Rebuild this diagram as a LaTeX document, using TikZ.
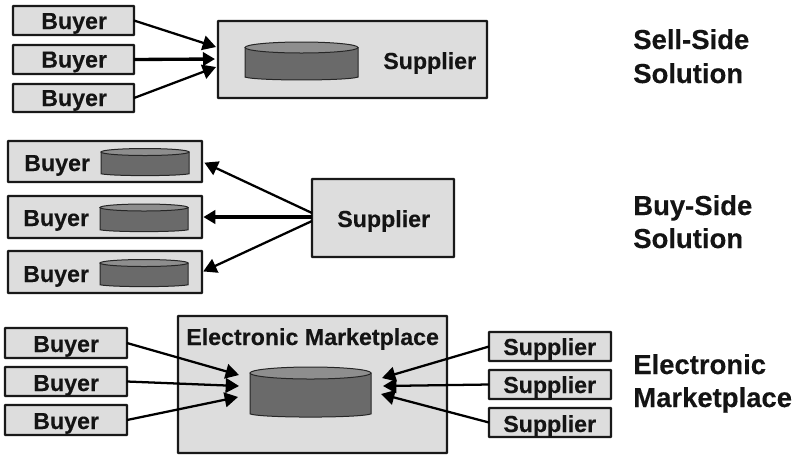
\documentclass[tikz,border=0pt]{standalone}
\usepackage{fontspec}
\setmainfont[BoldFeatures={FakeBold=0.25}]{Liberation Sans}
\usetikzlibrary{arrows.meta}
\definecolor{boxgray}{HTML}{DDDDDD}
\definecolor{cyldark}{HTML}{6A6A6A}
\definecolor{cyllight}{HTML}{8E8E8E}
\newcommand{\bx}[5]{%
  \node[boxstyle, minimum width={(#4-#2)*0.75pt}, minimum height={(#5-#3)*0.75pt}] (#1) at ({(#2+#4)/2},{(#3+#5)/2}) {};}
\newcommand{\cyl}[5]{% x1 x2 ytop ry ybot
  \path[cylside] (#1,#3) -- (#1,#5-#4*0.35)
     .. controls (#1+12,#5+#4*0.35) and (#2-12,#5+#4*0.35) .. (#2,#5-#4*0.35) -- (#2,#3) -- cycle;
  \path[cyltop] ({(#1+#2)/2},#3) ellipse [x radius={(#2-#1)/2}, y radius=#4];}
\tikzset{
  x=0.75pt, y=-0.75pt,
  boxstyle/.style={draw=black!90, line width=1.6pt, fill=boxgray, rounded corners=0.3pt, inner sep=0pt, outer sep=0pt},
  cylside/.style={draw=black!85, line width=0.75pt, fill=cyldark},
  cyltop/.style={draw=black!85, line width=0.75pt, fill=cyllight},
  lbl/.style={anchor=base west, inner sep=0pt, font=\bfseries\fontsize{17.4}{20}\selectfont, text=black!92},
  sect/.style={anchor=base west, inner sep=0pt, font=\bfseries\fontsize{20.6}{24}\selectfont, text=black!92},
  conn/.style={draw=black, line width=1.7pt, -{Triangle[length=10pt,width=11pt]}},
  connthick/.style={conn, line width=2.5pt, -{Triangle[length=9pt,width=10pt]}},
}
\begin{document}
\begin{tikzpicture}
\useasboundingbox (0,0) rectangle (795,455);
% Sell-side
\bx{a1}{13}{6}{134}{35}
\bx{a2}{13}{45}{134}{74}
\bx{a3}{13}{84}{134}{112}
\bx{as}{218}{21}{487}{98}
\cyl{245}{358}{47.5}{5.5}{79}
\node[lbl] (ta1) at (41,29) {Buyer};
\node[lbl] (ta2) at (41,67.5) {Buyer};
\node[lbl] (ta3) at (41,106) {Buyer};
\node[lbl] (tas) at (383,69) {Supplier};
\node[sect] (s1a) at (633,49) {Sell-Side};
\node[sect] (s1b) at (633,83) {Solution};
\coordinate (at1) at (216,47);
\coordinate (at2) at (215,59);
\coordinate (at3) at (216,67);
\draw[conn] (a1.east) -- (at1);
\draw[connthick] (a2.east) -- (at2);
\draw[conn] (a3.east) -- (at3);
% Buy-side
\bx{b1}{8}{141}{202}{182}
\bx{b2}{8}{196}{202}{238}
\bx{b3}{8}{251}{202}{293}
\bx{bs}{312}{179}{454}{257}
\cyl{101}{189}{152}{3.5}{175}
\cyl{100}{188}{207.5}{3.5}{231}
\cyl{100}{188}{263}{3.5}{286}
\node[lbl] (tb1) at (24,171) {Buyer};
\node[lbl] (tb2) at (23,226) {Buyer};
\node[lbl] (tb3) at (23,282) {Buyer};
\node[lbl] (tbs) at (337,227) {Supplier};
\node[sect] (s2a) at (633,215) {Buy-Side};
\node[sect] (s2b) at (633,248) {Solution};
\coordinate (bf1) at (312,213);
\coordinate (bf2) at (312,217);
\coordinate (bf3) at (312,221);
\draw[conn, shorten >=2pt] (bf1) -- (b1.east);
\draw[connthick, shorten >=1pt] (bf2) -- (b2.east);
\draw[conn, shorten >=1pt] (bf3) -- (b3.east);
% Marketplace
\bx{cm}{178}{316}{447}{453}
\cyl{250}{371}{373}{6}{416}
\bx{c1}{5}{328}{127}{358}
\bx{c2}{5}{367}{127}{396}
\bx{c3}{5}{405}{127}{435}
\bx{d1}{489}{332}{611}{361}
\bx{d2}{489}{370}{611}{399}
\bx{d3}{489}{408}{611}{437}
\node[lbl] (tc1) at (33,352) {Buyer};
\node[lbl] (tc2) at (33,391) {Buyer};
\node[lbl] (tc3) at (33,429) {Buyer};
\node[lbl] (td1) at (503,355) {Supplier};
\node[lbl] (td2) at (503,393) {Supplier};
\node[lbl] (td3) at (503,432) {Supplier};
\node[lbl] (tcm) at (186,345) {Electronic Marketplace};
\node[sect] (s3a) at (633,374) {Electronic};
\node[sect] (s3b) at (633,407) {Marketplace};
\coordinate (ct1) at (239,375);
\coordinate (ct2) at (239,386);
\coordinate (ct3) at (238,397);
\coordinate (dt1) at (382,378);
\coordinate (dt2) at (383,386);
\coordinate (dt3) at (381,394);
\draw[conn] (c1.east) -- (ct1);
\draw[conn] (c2.east) -- (ct2);
\draw[conn] (c3.east) -- (ct3);
\draw[conn] (d1.west) -- (dt1);
\draw[conn] (d2.west) -- (dt2);
\draw[conn] (d3.west) -- (dt3);
\end{tikzpicture}
\end{document}
